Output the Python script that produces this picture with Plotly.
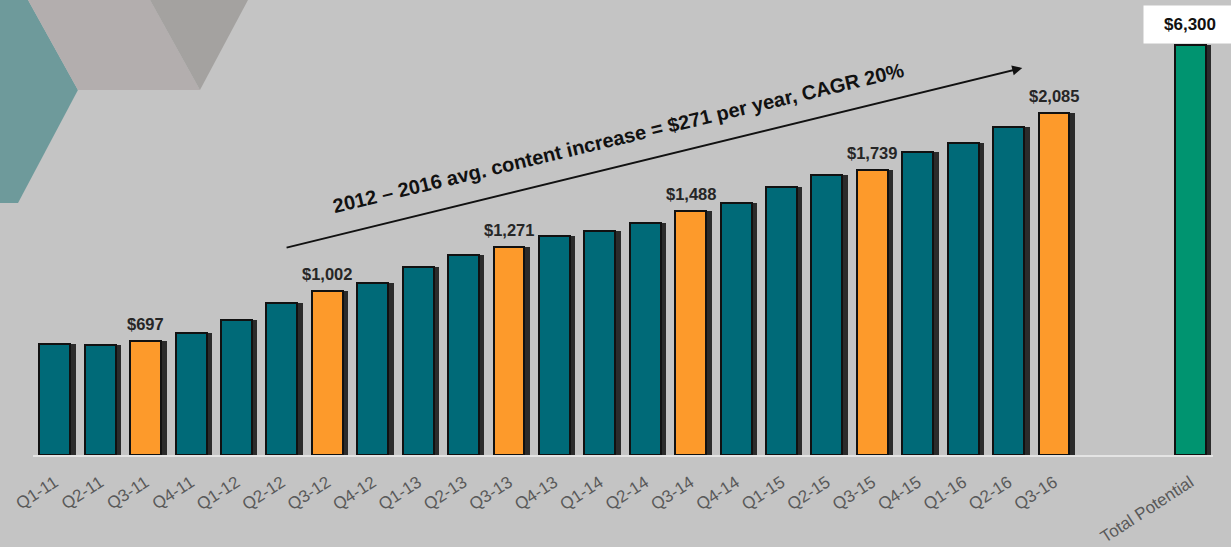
import plotly.graph_objects as go

quarters = ["Q1-11", "Q2-11", "Q3-11", "Q4-11", "Q1-12", "Q2-12", "Q3-12", "Q4-12",
            "Q1-13", "Q2-13", "Q3-13", "Q4-13", "Q1-14", "Q2-14", "Q3-14", "Q4-14",
            "Q1-15", "Q2-15", "Q3-15", "Q4-15", "Q1-16", "Q2-16", "Q3-16"]
content_values = [677, 671, 697, 744, 823, 927, 1002, 1049,
                  1146, 1219, 1271, 1335, 1366, 1415, 1488, 1537,
                  1634, 1707, 1739, 1848, 1902, 2000, 2085]
total_label = "Total Potential"
total_value = 6300
arrow_text = "2012 – 2016 avg. content increase = $271 per year, CAGR 20%"

TEAL = "#006a78"
ORANGE = "#fd9a2b"
GREEN = "#009470"
BG = "#c4c4c4"
FONT = "Liberation Sans"

x_q = list(range(len(quarters)))
x_total = len(quarters) + 2
colors = [ORANGE if q.startswith("Q3") else TEAL for q in quarters]

W = 0.68
fig = go.Figure()
# shadows
fig.add_trace(go.Bar(x=x_q, y=content_values, width=W, offset=-W / 2 + 0.12,
                     marker=dict(color="rgba(0,0,0,0.78)", line=dict(width=0)),
                     hoverinfo="skip", showlegend=False))
fig.add_trace(go.Bar(x=x_q, y=content_values, width=W, offset=-W / 2,
                     marker=dict(color=colors, line=dict(color="#111111", width=2)),
                     showlegend=False))
fig.add_trace(go.Bar(x=[x_total], y=[total_value], width=W, offset=-W / 2 + 0.12, yaxis="y2",
                     marker=dict(color="rgba(0,0,0,0.78)", line=dict(width=0)),
                     hoverinfo="skip", showlegend=False))
fig.add_trace(go.Bar(x=[x_total], y=[total_value], width=W, offset=-W / 2, yaxis="y2",
                     marker=dict(color=GREEN, line=dict(color="#111111", width=2)),
                     showlegend=False))

# decorative background polygons (pixel-based -> paper coords)
L, R, T, B = 33, 1213, 0, 455
def px(x, y):
    return (x - L) / (R - L), (B - y) / (B - T)
def poly(pts, color):
    s = "M " + " L ".join(f"{px(x, y)[0]:.4f},{px(x, y)[1]:.4f}" for x, y in pts) + " Z"
    return dict(type="path", path=s, xref="paper", yref="paper", fillcolor=color,
                line=dict(width=0), layer="below")

shapes = [
    poly([(0, 0), (28, 0), (78, 90), (18, 203), (0, 203)], "#6e9a9b"),
    poly([(28, 0), (150, 0), (200, 90), (78, 90)], "#b3aeae"),
    poly([(150, 0), (248, 0), (200, 90)], "#a4a2a0"),
]

annotations = [
    dict(x=21.3, y=2360, ax=5.07, ay=1262, xref="x", yref="y", axref="x", ayref="y",
         showarrow=True, arrowhead=2, arrowsize=1, arrowwidth=2, arrowcolor="#111111", text=""),
    dict(x=12.4, y=1935, xref="x", yref="y", text=f"<b>{arrow_text}</b>", showarrow=False,
         textangle=-13.5, font=dict(family=FONT, size=20, color="#111111")),
    dict(x=x_total, y=total_value, xref="x", yref="y2", yanchor="bottom", yshift=1,
         text=f"<b>${total_value:,}</b>", showarrow=False, bgcolor="white",
         width=84, height=29, borderpad=4,
         font=dict(family=FONT, size=17, color="#111111")),
]
for xi, q, v in zip(x_q, quarters, content_values):
    if q.startswith("Q3"):
        annotations.append(dict(x=xi, y=v, xref="x", yref="y", yanchor="bottom", yshift=6,
                                text=f"<b>${v:,}</b>", showarrow=False,
                                font=dict(family=FONT, size=16.5, color="#262626")))

fig.update_layout(
    width=1231, height=547,
    margin=dict(l=L, r=1231 - R, t=T, b=547 - B),
    paper_bgcolor=BG, plot_bgcolor="rgba(0,0,0,0)",
    barmode="overlay", bargap=0,
    shapes=shapes, annotations=annotations,
    xaxis=dict(range=[-0.48, 25.5], tickvals=x_q + [x_total], ticktext=quarters + [total_label],
               tickangle=-33, showgrid=False, zeroline=False, showline=True,
               linecolor="#e4e4e4", linewidth=2, ticks="", ticklabelstandoff=9,
               tickfont=dict(family=FONT, size=17, color="#595959")),
    yaxis=dict(range=[0, 2774], visible=False, showgrid=False),
    yaxis2=dict(range=[0, 6991], visible=False, overlaying="y", showgrid=False),
)

fig.write_html("out.html")
